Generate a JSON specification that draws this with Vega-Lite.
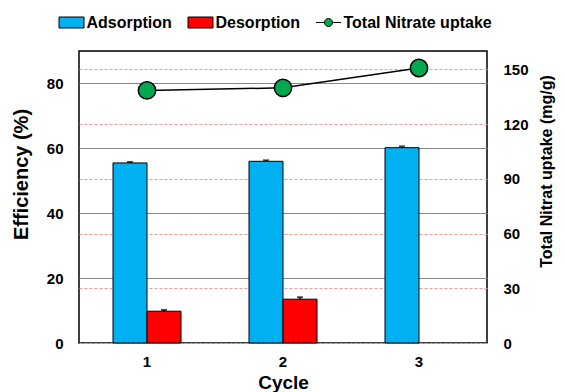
{
  "$schema": "https://vega.github.io/schema/vega-lite/v6.json",
  "width": 408,
  "height": 292,
  "autosize": "none",
  "padding": {"left": 79, "top": 51, "right": 78, "bottom": 49},
  "background": "white",
  "config": {
    "view": {"stroke": "black", "strokeWidth": 1.5},
    "font": "Liberation Sans",
    "axis": {"labelFont": "Liberation Sans", "titleFont": "Liberation Sans", "labelFontWeight": "bold", "titleFontWeight": "bold", "labelColor": "black", "titleColor": "black"}
  },
  "datasets": {
    "bars": [
      {"Cycle": "1", "Series": "Adsorption", "Value": 55.5, "Hi": 55.8},
      {"Cycle": "1", "Series": "Desorption", "Value": 9.8, "Hi": 10.2},
      {"Cycle": "2", "Series": "Adsorption", "Value": 56.0, "Hi": 56.3},
      {"Cycle": "2", "Series": "Desorption", "Value": 13.5, "Hi": 14.1},
      {"Cycle": "3", "Series": "Adsorption", "Value": 60.2, "Hi": 60.6}
    ],
    "uptake": [
      {"Cycle": "1", "Series": "Total Nitrate uptake", "Uptake": 138.4},
      {"Cycle": "2", "Series": "Total Nitrate uptake", "Uptake": 139.8},
      {"Cycle": "3", "Series": "Total Nitrate uptake", "Uptake": 150.7}
    ]
  },
  "layer": [
    {
      "data": {"name": "bars"},
      "encoding": {
        "x": {"field": "Cycle", "type": "nominal", "scale": {"paddingInner": 0, "paddingOuter": 0},
          "axis": {"title": "Cycle", "labelAngle": 0, "labelFontSize": 15, "titleFontSize": 19, "ticks": false, "domain": false, "labelPadding": 11, "titlePadding": 4}},
        "xOffset": {"field": "Series", "type": "nominal", "scale": {"domain": ["Adsorption", "Desorption"], "paddingInner": 0, "paddingOuter": 1.06}}
      },
      "layer": [
        {
          "mark": {"type": "bar", "stroke": "black", "strokeWidth": 1},
          "encoding": {
            "y": {"field": "Value", "type": "quantitative", "scale": {"domain": [0, 90], "nice": false},
              "axis": {"title": "Efficiency (%)", "orient": "left", "values": [0, 20, 40, 60, 80], "grid": true, "gridColor": "#888888", "gridWidth": 1, "ticks": false, "domain": false, "labelFontSize": 15, "labelPadding": 16, "titleFontSize": 20, "titlePadding": 15, "titleY": 123}},
            "color": {"field": "Series", "type": "nominal",
              "scale": {"domain": ["Adsorption", "Desorption", "Total Nitrate uptake"], "range": ["#00B0F0", "#FF0000", "#00A850"]},
              "legend": {"title": null, "orient": "none", "direction": "horizontal", "legendX": -20.5, "legendY": -41.5, "padding": 0,
                "labelFont": "Liberation Sans", "labelFontWeight": "bold", "labelFontSize": 16, "labelColor": "black", "labelOffset": 2,
                "columnPadding": 13, "symbolSize": 625, "symbolStrokeColor": "black", "symbolStrokeWidth": 1, "symbolOpacity": 1,
                "encode": {"symbols": {"update": {"shape": [
                  {"test": "datum.value === 'Total Nitrate uptake'", "value": "M-1,0H-0.32M0.32,0H1M-0.32,0A0.32,0.32 0 1,0 0.32,0A0.32,0.32 0 1,0 -0.32,0Z"},
                  {"value": "M-1,-0.44H1V0.44H-1Z"}
                ]}}}}
            }
          }
        },
        {
          "mark": {"type": "rule", "color": "black", "strokeWidth": 1.5},
          "encoding": {"y": {"field": "Value", "type": "quantitative"}, "y2": {"field": "Hi"}}
        },
        {
          "mark": {"type": "tick", "color": "black", "thickness": 2, "size": 6, "orient": "horizontal"},
          "encoding": {"y": {"field": "Hi", "type": "quantitative"}}
        }
      ]
    },
    {
      "data": {"name": "uptake"},
      "encoding": {
        "x": {"field": "Cycle", "type": "nominal"},
        "y": {"field": "Uptake", "type": "quantitative", "scale": {"domain": [0, 160], "nice": false},
          "axis": {"title": "Total Nitrat  uptake (mg/g)", "orient": "right", "values": [0, 30, 60, 90, 120, 150], "grid": true, "gridColor": "#E89A9A", "gridDash": [3, 2], "gridWidth": 1, "ticks": false, "domain": false, "labelFontSize": 15, "labelPadding": 16, "titleFontSize": 16, "titlePadding": 26, "titleAngle": 270, "titleY": 120}}
      },
      "layer": [
        {"mark": {"type": "line", "color": "black", "strokeWidth": 1.5}},
        {
          "mark": {"type": "point", "filled": true, "stroke": "black", "strokeWidth": 1.5, "size": 300, "opacity": 1},
          "encoding": {"color": {"field": "Series", "type": "nominal"}}
        }
      ]
    }
  ],
  "resolve": {"scale": {"y": "independent"}}
}
